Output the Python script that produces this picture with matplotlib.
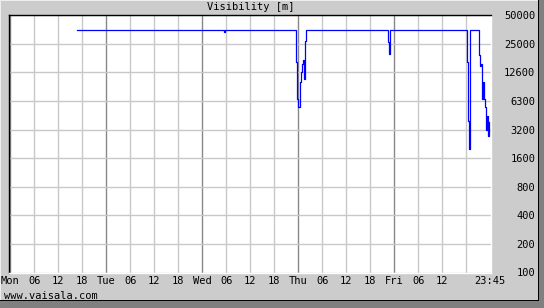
import numpy as np
import matplotlib
matplotlib.use("Agg")
import matplotlib.pyplot as plt
from matplotlib.patches import Rectangle

# hours since Monday 00:00, visibility in metres
hours = [16.75, 53.25, 53.5, 53.75, 71.25, 71.5, 71.75, 72.0, 72.25, 72.5, 72.75,
         73.0, 73.25, 73.5, 73.75, 74.0, 94.25, 94.5, 94.75, 95.0, 114.0,
         114.25, 114.5, 114.75, 115.0, 117.0, 117.25, 117.5, 117.75, 118.0,
         118.25, 118.5, 118.75, 119.0, 119.25, 119.5, 119.75]
vis = [35000, 35000, 33500, 35000, 35000, 16000, 6600, 5400, 5400, 9900, 12600,
       15400, 16800, 10800, 27000, 35000, 35000, 26000, 19800, 35000, 35000,
       16000, 3900, 2000, 35000, 35000, 19000, 14800, 15400, 6600,
       9900, 6600, 5400, 3100, 4400, 2700, 3800]

day_names = ["Mon", "Tue", "Wed", "Thu", "Fri"]
hour_names = ["06", "12", "18"]
end_label = "23:45"
y_ticks = np.logspace(2, np.log10(50000), 10)
y_labels = ["100", "200", "400", "800", "1600", "3200", "6300", "12600", "25000", "50000"]

W, H = 544, 308
bg = "#cccccc"
mono = "DejaVu Sans Mono"

fig = plt.figure(figsize=(W / 100, H / 100), dpi=100, facecolor=bg)
ax = fig.add_axes([8.5 / W, 1 - 272.5 / H, (490.8 - 8.5) / W, (272.5 - 14.5) / H])
ax.set_facecolor("white")

ax.set_yscale("log")
ax.set_xlim(-0.45, 120.1)
ax.set_ylim(100, 51000)

# grid every 6 hours, darker at midnight
for h in range(0, 120, 6):
    if h % 24 == 0:
        ax.axvline(h, color="#888888", lw=1.0, zorder=1)
    else:
        ax.axvline(h, color="#c8c8c8", lw=1.0, zorder=1)
for v in y_ticks:
    ax.axhline(v, color="#c8c8c8", lw=1.0, zorder=1)

# data logger draws as stairs
ax.plot(hours, vis, color="#0000ff", lw=0.9, drawstyle="steps-post", zorder=3)

# x labels
xt, xl = [], []
for d, name in enumerate(day_names):
    xt.append(d * 24)
    xl.append(name)
    for k, hn in enumerate(hour_names):
        if d == 4 and hn == "18":
            continue
        xt.append(d * 24 + 6 * (k + 1))
        xl.append(hn)
xt.append(119.75)
xl.append(end_label)
ax.set_xticks(xt)
ax.set_xticklabels(xl, fontfamily=mono, fontsize=7.5)
ax.tick_params(axis="x", length=0, pad=2.5)

ax.yaxis.tick_right()
ax.set_yticks(y_ticks)
ax.set_yticklabels(y_labels, fontfamily=mono, fontsize=7.5, ha="right")
ax.yaxis.set_minor_locator(matplotlib.ticker.NullLocator())
ax.tick_params(axis="y", length=0, pad=32)

for s in ["left", "top"]:
    ax.spines[s].set_color("black")
    ax.spines[s].set_linewidth(1.0)
for s in ["right", "bottom"]:
    ax.spines[s].set_color("white")
    ax.spines[s].set_linewidth(1.0)

fig.text(250.5 / W, 1 - 7.5 / H, "Visibility [m]", ha="center", va="center",
         fontfamily=mono, fontsize=7.5)
fig.text(4 / W, 1 - 296 / H, "www.vaisala.com", ha="left", va="center",
         fontfamily=mono, fontsize=7.5)

# raised edge top/left, shadow border on the right and bottom
fig.patches.append(Rectangle((0, 1 - 1 / H), 1, 1 / H, transform=fig.transFigure,
                             facecolor="#eeeeee", edgecolor="none"))
fig.patches.append(Rectangle((0, 0), 1 / W, 1, transform=fig.transFigure,
                             facecolor="#eeeeee", edgecolor="none"))
fig.patches.append(Rectangle((538 / W, 0), 6 / W, 1, transform=fig.transFigure,
                             facecolor="#808080", edgecolor="none"))
fig.patches.append(Rectangle((0, 0), 1, 7 / H, transform=fig.transFigure,
                             facecolor="#808080", edgecolor="none"))
fig.patches.append(Rectangle((538 / W, 7 / H), 1 / W, 1 - 7 / H, transform=fig.transFigure,
                             facecolor="black", edgecolor="none"))
fig.patches.append(Rectangle((0, 7 / H), 539 / W, 1 / H, transform=fig.transFigure,
                             facecolor="black", edgecolor="none"))

fig.savefig("out.png", dpi=100, facecolor=bg)
